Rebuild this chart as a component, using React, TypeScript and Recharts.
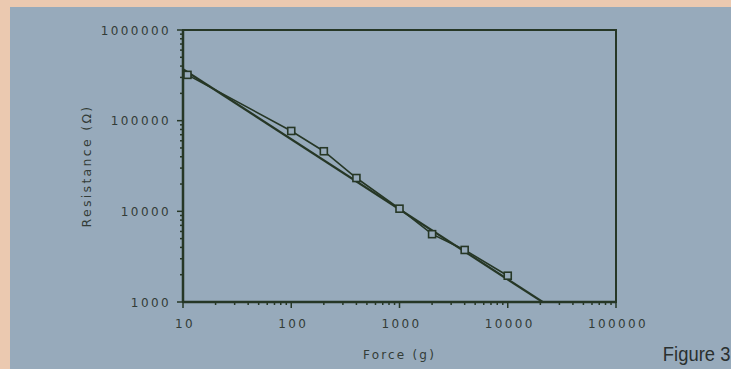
import { LineChart, Line, XAxis, YAxis, ReferenceArea } from "recharts";

const forceG = [11, 100, 200, 400, 1000, 2000, 4000, 10000];
const resistanceOhm = [320000, 77000, 46000, 23300, 10700, 5600, 3750, 1950];

// straight fit line, two end points
const fitForce = [10, 21000];
const fitResistance = [370000, 1000];

const xDecades = [10, 100, 1000, 10000, 100000];
const yDecades = [1000, 10000, 100000, 1000000];
const minorSteps = [2, 3, 4, 5, 6, 7, 8, 9];

const measured = forceG.map((f, i) => ({ f, r: resistanceOhm[i] }));
const fit = fitForce.map((f, i) => ({ f, r: fitResistance[i] }));

const withMinors = (decades: number[]) => {
  const out: number[] = [];
  decades.forEach((d, i) => {
    out.push(d);
    if (i < decades.length - 1) minorSteps.forEach((m) => out.push(d * m));
  });
  return out;
};
const xTicks = withMinors(xDecades);
const yTicks = withMinors(yDecades);

const INK = "#263726";
const TEXT = "#333c37";
const BLUE = "#97aabb";
const PEACH = "#ebc9b0";
const tickFont = { fontFamily: "'DejaVu Sans', sans-serif", fontSize: 12, letterSpacing: 2.4, fill: TEXT };

const XTick = (props: any) => {
  const { x, y, payload } = props;
  const major = xDecades.includes(payload.value);
  return (
    <g>
      <line x1={x} x2={x} y1={y} y2={y + (major ? 6 : 3)} stroke={INK} strokeWidth={1.5} />
      {major && (
        <text x={x + 2} y={y + 26} textAnchor="middle" {...tickFont}>
          {payload.value}
        </text>
      )}
    </g>
  );
};

const YTick = (props: any) => {
  const { x, y, payload } = props;
  const major = yDecades.includes(payload.value);
  return (
    <g>
      <line x1={x} x2={x - (major ? 6 : 3)} y1={y} y2={y} stroke={INK} strokeWidth={1.5} />
      {major && (
        <text x={x - 12} y={y + 4.5} textAnchor="end" {...tickFont}>
          {payload.value}
        </text>
      )}
    </g>
  );
};

const SquareDot = (props: any) => {
  const { cx, cy, index } = props;
  if (cx == null || cy == null) return <g key={index} />;
  return (
    <rect key={index} x={cx - 3.5} y={cy - 3.5} width={7} height={7} fill={BLUE} stroke={INK} strokeWidth={1.6} />
  );
};

export default function App() {
  return (
    <div style={{ position: "absolute", left: 0, top: 0, width: 731, height: 369, background: PEACH, overflow: "hidden" }}>
      <div style={{ position: "absolute", left: 10, top: 7, width: 721, height: 362, background: BLUE }}>
        <LineChart width={721} height={362} margin={{ top: 23, right: 115, bottom: 5, left: 63 }}>
          <XAxis
            dataKey="f"
            type="number"
            scale="log"
            domain={[10, 100000]}
            allowDataOverflow
            ticks={xTicks}
            interval={0}
            tick={<XTick />}
            tickSize={0}
            tickMargin={0}
            tickLine={false}
            height={62}
            axisLine={{ stroke: INK, strokeWidth: 2.5 }}
            label={{
              value: "Force (g)",
              position: "insideBottom",
              offset: 5,
              style: { ...tickFont, fontSize: 12, letterSpacing: 2.2 },
            }}
          />
          <YAxis
            dataKey="r"
            type="number"
            scale="log"
            domain={[1000, 1000000]}
            allowDataOverflow
            ticks={yTicks}
            interval={0}
            tick={<YTick />}
            tickSize={0}
            tickMargin={0}
            tickLine={false}
            width={110}
            axisLine={{ stroke: INK, strokeWidth: 2.5 }}
            label={{
              value: "Resistance (Ω)",
              angle: -90,
              position: "insideLeft",
              offset: 14,
              style: { ...tickFont, fontSize: 12.5, letterSpacing: 2.3, textAnchor: "middle" },
            }}
          />
          <ReferenceArea x1={10} x2={100000} y1={1000} y2={1000000} fill="none" stroke={INK} strokeWidth={2} />
          <Line
            data={fit}
            dataKey="r"
            stroke={INK}
            strokeWidth={2.2}
            dot={false}
            isAnimationActive={false}
          />
          <Line
            data={measured}
            dataKey="r"
            stroke={INK}
            strokeWidth={1.6}
            dot={<SquareDot />}
            isAnimationActive={false}
          />
        </LineChart>
        <div
          style={{
            position: "absolute",
            right: 1,
            top: 336,
            fontFamily: "'Liberation Sans', Arial, sans-serif",
            fontSize: 20,
            color: "#2a302f",
            transform: "scaleX(0.92)",
            transformOrigin: "right",
          }}
        >
          Figure 3
        </div>
      </div>
    </div>
  );
}
